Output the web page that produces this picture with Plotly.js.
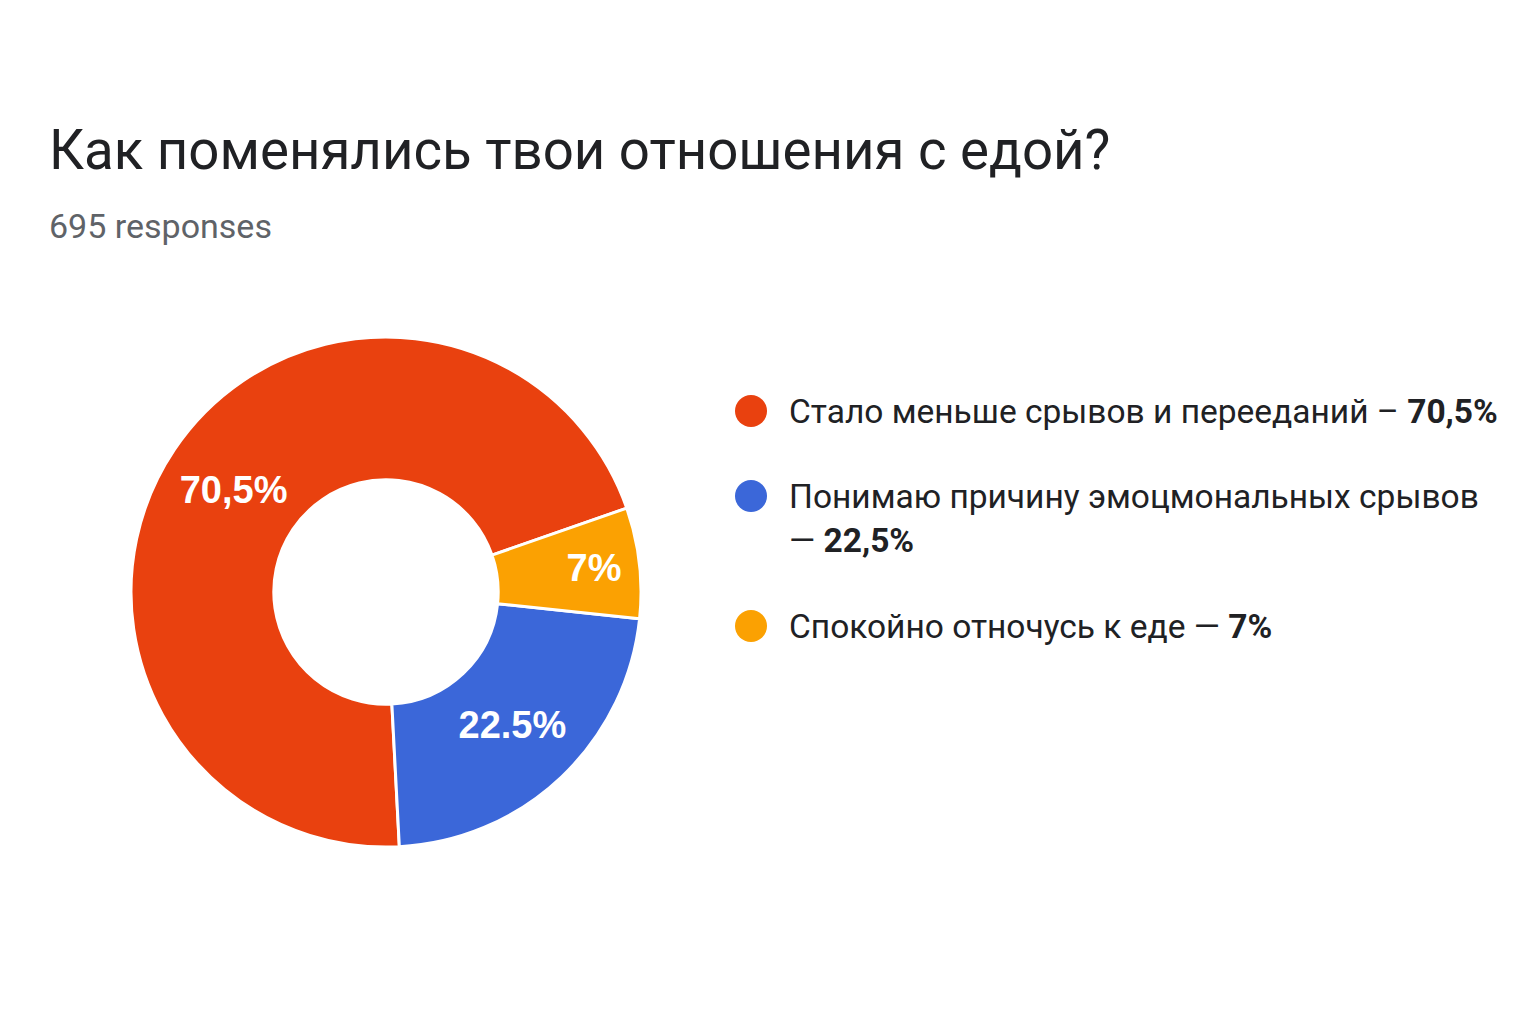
<!DOCTYPE html>
<html>
<head>
<meta charset="utf-8">
<script src="https://cdn.plot.ly/plotly-3.0.1.min.js"></script>
<style>
html, body { margin: 0; padding: 0; background: #ffffff; }
#chart { width: 1536px; height: 1024px; }
</style>
</head>
<body>
<div id="chart"></div>
<script>
// ---- data ----
const titleText = "Как поменялись твои отношения с едой?";
const subtitleText = "695 responses";
const categories = [
  "Стало меньше срывов и перееданий",
  "Понимаю причину эмоцмональных срывов",
  "Спокойно отночусь к еде"
];
const values = [70.5, 22.5, 7];
const sliceLabels = ["70,5%", "22.5%", "7%"];
const legendDashes = ["–", "<br>—", "—"];
const legendValues = ["70,5%", "22,5%", "7%"];
const colors = ["#E9410F", "#3B67D9", "#FBA102"];

// ---- layout geometry (pixels) ----
const W = 1536, H = 1024;
const cx = 386, cy = 592, R = 255;
const legendMarkerX = 751, legendTextX = 787;
const legendRowY = [411, 518, 626];
const legendMarkerY = [411, 496, 626];
const markerR = 16;

const trace = {
  type: "pie",
  labels: categories,
  values: values,
  text: sliceLabels,
  textinfo: "text",
  textposition: "inside",
  insidetextorientation: "horizontal",
  hole: 0.44,
  sort: false,
  direction: "counterclockwise",
  rotation: 177,
  marker: { colors: colors, line: { color: "#ffffff", width: 3 } },
  insidetextfont: { family: "Liberation Sans, Arial, sans-serif", size: 38, color: "#ffffff", weight: "bold" },
  showlegend: false,
  hoverinfo: "label+percent",
  domain: {
    x: [(cx - R) / W, (cx + R) / W],
    y: [1 - (cy + R) / H, 1 - (cy - R) / H]
  }
};

const annotations = [
  {
    text: titleText, xref: "paper", yref: "paper",
    x: 47 / W, y: 1 - 150 / H, xanchor: "left", yanchor: "middle",
    showarrow: false, font: { family: "Roboto, sans-serif", size: 54.6, color: "#202124" }
  },
  {
    text: subtitleText, xref: "paper", yref: "paper",
    x: 47 / W, y: 1 - 226 / H, xanchor: "left", yanchor: "middle",
    showarrow: false, font: { family: "Roboto, sans-serif", size: 34, color: "#5f6368" }
  }
];
const shapes = [];
categories.forEach(function (c, i) {
  annotations.push({
    text: c + " " + legendDashes[i] + " <b>" + legendValues[i] + "</b>",
    xref: "paper", yref: "paper",
    x: legendTextX / W, y: 1 - legendRowY[i] / H,
    xanchor: "left", yanchor: "middle", align: "left",
    showarrow: false,
    font: { family: "Roboto, sans-serif", size: 33.5, color: "#202124" }
  });
  shapes.push({
    type: "circle", xref: "paper", yref: "paper",
    x0: (legendMarkerX - markerR) / W, x1: (legendMarkerX + markerR) / W,
    y0: 1 - (legendMarkerY[i] + markerR) / H, y1: 1 - (legendMarkerY[i] - markerR) / H,
    fillcolor: colors[i], line: { width: 0 }
  });
});

const layout = {
  width: W, height: H,
  margin: { l: 0, r: 0, t: 0, b: 0 },
  paper_bgcolor: "#ffffff",
  plot_bgcolor: "#ffffff",
  annotations: annotations,
  shapes: shapes,
  showlegend: false
};

Plotly.newPlot("chart", [trace], layout, { displayModeBar: false, staticPlot: true });
</script>
</body>
</html>
